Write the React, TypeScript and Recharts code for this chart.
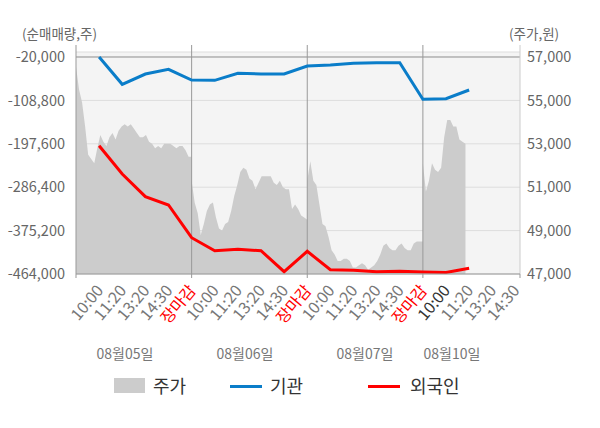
import { Area, CartesianGrid, ComposedChart, Line, ReferenceLine, XAxis, YAxis } from "recharts";

// slot labels along the bottom (x = 1..19)
const slotLabels = [
  "10:00", "11:20", "13:20", "14:30", "장마감",
  "10:00", "11:20", "13:20", "14:30", "장마감",
  "10:00", "11:20", "13:20", "14:30", "장마감",
  "10:00", "11:20", "13:20", "14:30",
];

// 순매매량 (주), one value per slot from 08/05 10:00
const institution = [
  -20000, -75900, -54800, -45200, -67100,
  -67700, -53400, -54800, -54800, -38400,
  -36400, -32900, -31600, -31600, -106600,
  -105300, -87500,
];
const foreigner = [
  -201500, -259400, -305800, -322800, -389700,
  -416300, -413500, -416300, -459300, -417600,
  -455200, -456400, -459300, -458500, -460000,
  -460700, -452300,
];

// intraday price (원), roughly every 10 minutes
const priceAug05 = [
  56550, 55500, 54900, 53800, 52500, 52300, 52100, 52800, 53400, 53100,
  52900, 53300, 53500, 53200, 53600, 53800, 53900, 53800, 53900, 53700,
  53500, 53300, 53300, 53400, 53100, 53000, 52800, 52900, 52800, 53000,
  53000, 53000, 52900, 52800, 52900, 52900, 52700, 52400, 52400,
];
const priceAug06 = [
  51300, 50300, 49800, 48800, 49300, 49900, 50200, 50300, 49600, 49100,
  49000, 49300, 49400, 49900, 50600, 51100, 51700, 51900, 51800, 51400,
  51300, 50900, 51200, 51500, 51500, 51500, 51500, 51200, 51100, 51300,
  51000, 50900, 50900, 50000, 50200, 50000, 49700, 49600, 49500,
];
const priceAug07 = [
  51300, 52200, 51300, 51100, 50200, 49300, 49200, 48700, 48100, 47900,
  47600, 47600, 47700, 47700, 47600, 47300, 47300, 47400, 47500, 47400,
  47200, 47300, 47400, 47600, 47900, 48300, 48400, 48200, 48100, 48100,
  48300, 48400, 48200, 48100, 48100, 48400, 48500, 48500, 48500,
];
const priceAug10 = [
  52100, 50800, 51300, 52100, 51800, 51700, 51900, 53300, 54100, 54100,
  53800, 53800, 53200, 53100, 53000,
];

const dayLabels = ["08월05일", "08월06일", "08월07일", "08월10일"];
const leftTicks = [-464000, -375200, -286400, -197600, -108800, -20000];
const rightTicks = [47000, 49000, 51000, 53000, 55000, 57000];

const SLOTS_PER_DAY = 5;
const SAMPLE_STEPS = 38;
const X_MAX = 19.2;
const LEFT_DOMAIN: [number, number] = [-464000, -9770];
const RIGHT_DOMAIN: [number, number] = [47000, 57230];
const LINE_TOP = 4550;

const priceRows = [priceAug05, priceAug06, priceAug07, priceAug10].flatMap((day, d) =>
  day.map((price, i) => ({ x: d * SLOTS_PER_DAY + (i * SLOTS_PER_DAY) / SAMPLE_STEPS, price })),
);
const flowRows = institution.map((inst, i) => ({ x: i + 1, inst, foreign: foreigner[i] }));

const xTicks = [0, ...slotLabels.map((_, i) => i + 1), X_MAX];
const dividers = [5, 10, 15];

const fmt = (v: number) => v.toLocaleString("en-US");

function SlotTick(props: any) {
  const { x, y, payload } = props;
  const v = payload.value as number;
  const edge = v === 0 || v === X_MAX || v % SLOTS_PER_DAY === 0;
  const label = Number.isInteger(v) && v >= 1 ? slotLabels[v - 1] : null;
  let color = "#777";
  if (label === "장마감") color = "#ff0000";
  if (v === 16) color = "#333";
  return (
    <g>
      {edge && <line x1={x} y1={y} x2={x} y2={y + 4} stroke="#999" />}
      {label && (
        <g transform={`translate(${x + 5},${y + 17})`}>
          <text x={0} y={0} textAnchor="end" transform="rotate(-50)" fill={color} fontSize={16}>
            {label}
          </text>
        </g>
      )}
    </g>
  );
}

const legendText = { position: "absolute" as const, top: 373, fontSize: 18, color: "#333", lineHeight: "24px" };

export default function App() {
  return (
    <div
      style={{
        position: "absolute",
        left: 0,
        top: 0,
        width: 600,
        height: 428,
        background: "#fff",
        fontFamily: "'Noto Sans CJK KR', 'Noto Sans', sans-serif",
      }}
    >
      <div style={{ position: "absolute", left: 22, top: 23, fontSize: 13.5, color: "#666" }}>(순매매량,주)</div>
      <div style={{ position: "absolute", left: 509, top: 23, fontSize: 13.5, color: "#666" }}>(주가,원)</div>

      <ComposedChart width={600} height={340} margin={{ top: 52, right: 0, bottom: 0, left: 0 }}>
        <CartesianGrid yAxisId="left" vertical={false} stroke="#dddddd" fill="#f4f4f4" />
        <XAxis
          type="number"
          dataKey="x"
          domain={[0, X_MAX]}
          ticks={xTicks}
          interval={0}
          height={66}
          tickSize={0}
          tickMargin={0}
          tickLine={false}
          axisLine={{ stroke: "#999" }}
          tick={<SlotTick />}
        />
        <YAxis
          yAxisId="left"
          width={76}
          domain={LEFT_DOMAIN}
          ticks={leftTicks}
          interval={0}
          tickFormatter={fmt}
          tickLine={false}
          axisLine={false}
          tickMargin={5}
          tick={{ fill: "#666", fontSize: 14.5 }}
        />
        <YAxis
          yAxisId="right"
          orientation="right"
          width={80}
          domain={RIGHT_DOMAIN}
          ticks={rightTicks}
          interval={0}
          tickFormatter={fmt}
          tickLine={false}
          axisLine={false}
          tickMargin={1}
          tick={{ fill: "#666", fontSize: 14.5 }}
        />
        <Area
          yAxisId="right"
          data={priceRows}
          dataKey="price"
          type="linear"
          stroke="none"
          fill="#cccccc"
          fillOpacity={1}
          isAnimationActive={false}
        />
        <ReferenceLine yAxisId="left" y={-20000} stroke="#999" />
        <ReferenceLine
          yAxisId="left"
          ifOverflow="visible"
          segment={[{ x: 0, y: LEFT_DOMAIN[0] }, { x: 0, y: LINE_TOP }]}
          stroke="#999"
        />
        <ReferenceLine
          yAxisId="left"
          ifOverflow="visible"
          segment={[{ x: X_MAX, y: LEFT_DOMAIN[0] }, { x: X_MAX, y: LINE_TOP }]}
          stroke="#cccccc"
        />
        {dividers.map((d) => (
          <ReferenceLine
            key={d}
            yAxisId="left"
            ifOverflow="visible"
            segment={[{ x: d, y: LEFT_DOMAIN[0] }, { x: d, y: LINE_TOP }]}
            stroke="#999"
          />
        ))}
        <Line
          yAxisId="left"
          data={flowRows}
          dataKey="inst"
          type="linear"
          stroke="#0a7dc9"
          strokeWidth={3}
          dot={false}
          isAnimationActive={false}
        />
        <Line
          yAxisId="left"
          data={flowRows}
          dataKey="foreign"
          type="linear"
          stroke="#ff0000"
          strokeWidth={3}
          dot={false}
          isAnimationActive={false}
        />
      </ComposedChart>

      {dayLabels.map((d, i) => (
        <div
          key={d}
          style={{
            position: "absolute",
            left: [125, 245, 365, 452][i] - 40,
            width: 80,
            top: 343,
            textAlign: "center",
            fontSize: 14,
            color: "#777",
          }}
        >
          {d}
        </div>
      ))}

      <div style={{ position: "absolute", left: 114, top: 378, width: 31, height: 15, background: "#cccccc" }} />
      <div style={{ ...legendText, left: 153 }}>주가</div>
      <div style={{ position: "absolute", left: 230, top: 385, width: 32, height: 3, background: "#0a7dc9" }} />
      <div style={{ ...legendText, left: 270 }}>기관</div>
      <div style={{ position: "absolute", left: 368, top: 385, width: 32, height: 3, background: "#ff0000" }} />
      <div style={{ ...legendText, left: 410 }}>외국인</div>
    </div>
  );
}
